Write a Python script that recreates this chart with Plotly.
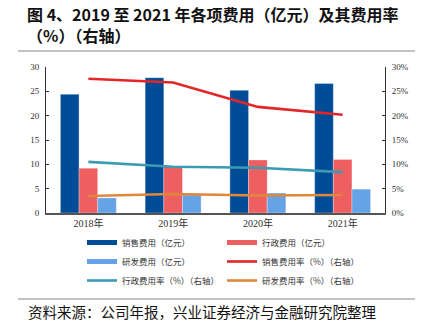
import plotly.graph_objects as go

years = ["2018年", "2019年", "2020年", "2021年"]
sales_cost = [24.4, 27.8, 25.2, 26.6]
admin_cost = [9.2, 9.6, 10.9, 11.0]
rd_cost = [3.1, 3.7, 4.1, 4.9]
sales_rate = [27.6, 26.8, 21.8, 20.2]
admin_rate = [10.5, 9.5, 9.3, 8.4]
rd_rate = [3.5, 3.9, 3.6, 3.7]

bar_names = ["销售费用（亿元）", "行政费用（亿元）", "研发费用（亿元）"]
line_names = ["销售费用率（%）（右轴）", "行政费用率（%）（右轴）", "研发费用率（%）（右轴）"]
left_ticks = [0, 5, 10, 15, 20, 25, 30]
right_ticks = [0, 5, 10, 15, 20, 25, 30]
right_labels = [f"{v}%" for v in right_ticks]

c_sales, c_admin, c_rd = "#004C97", "#EE5F61", "#65A3E6"
c_lsales, c_ladmin, c_lrd = "#E3262A", "#3A9BB2", "#E0873C"

W, H = 427, 323
L, R, T, B = 46, 42, 67, 110
pw, ph = W - L - R, H - T - B

def px(x):
    return (x - L) / pw

def py(y):
    return (H - B - y) / ph

fig = go.Figure()
for vals, name, col in zip([sales_cost, admin_cost, rd_cost], bar_names, [c_sales, c_admin, c_rd]):
    fig.add_trace(go.Bar(x=years, y=vals, name=name,
                         marker=dict(color=col, line=dict(color="rgba(255,255,255,0.5)", width=0.6)),
                         showlegend=False))
for vals, name, col in zip([sales_rate, admin_rate, rd_rate], line_names, [c_lsales, c_ladmin, c_lrd]):
    fig.add_trace(go.Scatter(x=years, y=vals, name=name, mode="lines", yaxis="y2",
                             line=dict(color=col, width=2.6), showlegend=False))

# legend entries (two columns)
legend_items = [
    (bar_names[0], c_sales, "legend"), (bar_names[1], c_admin, "legend2"),
    (bar_names[2], c_rd, "legend"), (line_names[0], c_lsales, "legend2"),
    (line_names[1], c_ladmin, "legend"), (line_names[2], c_lrd, "legend2"),
]
for name, col, lg in legend_items:
    w = 5 if "亿元" in name else 2.6
    fig.add_trace(go.Scatter(x=[None], y=[None], name=name, mode="lines",
                             line=dict(color=col, width=w), legend=lg, showlegend=True))

axis_font = dict(family="Liberation Serif, Noto Sans CJK SC", size=9, color="#333")
leg_font = dict(family="Noto Sans CJK SC", size=8.5, color="#333")
fig.update_layout(
    width=W, height=H, margin=dict(l=L, r=R, t=T, b=B),
    paper_bgcolor="white", plot_bgcolor="white",
    barmode="group", bargap=0.34, bargroupgap=0,
    xaxis=dict(showline=True, linecolor="#555", linewidth=1.5, ticks="",
               tickfont=dict(family="Liberation Serif, Noto Sans CJK SC", size=10, color="#333"),
               showgrid=False),
    yaxis=dict(range=[0, 30], tickvals=left_ticks, showline=True, linecolor="#333", linewidth=1,
               ticks="inside", ticklen=3, tickcolor="#333", showgrid=False, zeroline=False,
               tickfont=axis_font, ticklabelstandoff=4),
    yaxis2=dict(range=[0, 30], tickvals=right_ticks, ticktext=right_labels, overlaying="y", side="right",
                showline=True, linecolor="#333", linewidth=1, ticks="inside", ticklen=3, tickcolor="#333",
                showgrid=False, zeroline=False, tickfont=axis_font, ticklabelstandoff=4),
    legend=dict(x=px(82), xanchor="left", y=py(228), yanchor="top", bgcolor="rgba(0,0,0,0)",
                font=leg_font, tracegroupgap=0),
    legend2=dict(x=px(222), xanchor="left", y=py(228), yanchor="top", bgcolor="rgba(0,0,0,0)",
                 font=leg_font, tracegroupgap=0),
)

title_font = dict(family="Noto Sans CJK SC", size=16, color="#111")
fig.add_annotation(text="<b>图 4、2019 至 2021 年各项费用（亿元）及其费用率<br>（%）（右轴）</b>",
                   xref="paper", yref="paper", align="left", borderpad=0,
                   x=px(26), y=py(24.5), xanchor="left", yanchor="middle", showarrow=False, font=title_font)

fig.add_shape(type="line", xref="paper", yref="paper", x0=px(18), x1=px(415), y0=py(51), y1=py(51),
              line=dict(color="#888", width=1.2))
fig.add_shape(type="line", xref="paper", yref="paper", x0=px(18), x1=px(415), y0=py(299), y1=py(299),
              line=dict(color="#888", width=1.2))
fig.add_annotation(text="资料来源：公司年报，兴业证券经济与金融研究院整理", xref="paper", yref="paper",
                   x=px(26), y=py(311), xanchor="left", yanchor="middle", showarrow=False,
                   font=dict(family="Noto Sans CJK SC", size=14.5, color="#111"))

fig.write_html("out.html")
